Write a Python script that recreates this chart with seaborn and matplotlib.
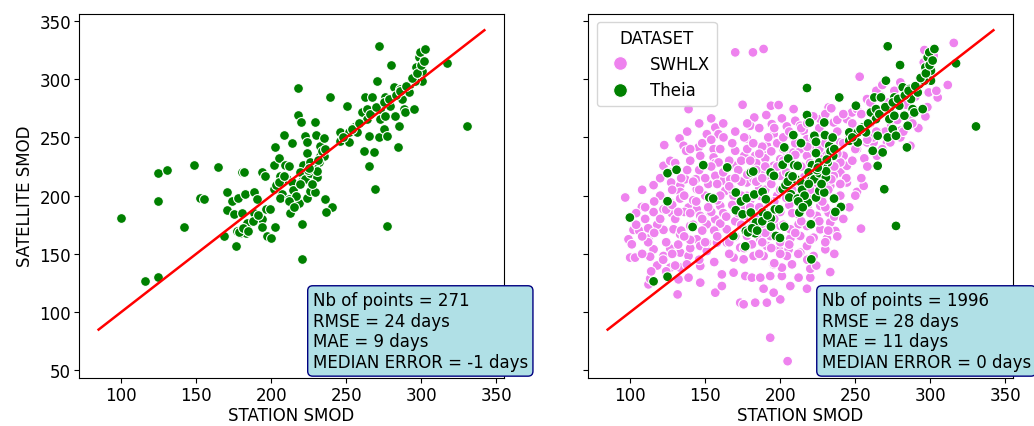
import matplotlib
matplotlib.use("Agg")
import matplotlib.pyplot as plt
import seaborn as sns
import pandas as pd

# Theia (green) points: station SMOD, satellite SMOD
theia_x = [99.8, 115.6, 124.9, 124.9, 130.9, 124.9, 141.6, 148.7, 152.7, 155.3, 164.7, 176.7, 168.7,
           170.4, 170.4, 173.8, 174.9, 177.6, 182.7, 180.4, 182.0, 180.4, 177.1, 179.3, 182.0, 183.3,
           183.8, 188.2, 190.4, 188.2, 193.6, 195.8, 193.8, 193.8, 196.4, 199.3, 197.1, 199.8, 202.7,
           201.6, 201.6, 202.7, 205.3, 208.7, 213.8, 209.3, 211.6, 206.0, 207.1, 210.4, 213.8, 207.1,
           206.0, 211.6, 212.7, 218.4, 220.4, 220.7, 217.8, 217.8, 219.6, 222.7, 223.8, 223.8, 221.1,
           218.9, 220.4, 222.7, 226.0, 223.8, 226.0, 229.3, 229.3, 229.8, 232.7, 234.9, 232.7, 235.3,
           231.6, 228.2, 230.4, 226.0, 235.8, 240.4, 236.7, 239.3, 250.4, 246.0, 246.0, 251.6, 251.6,
           255.0, 257.1, 260.4, 263.8, 262.7, 267.1, 263.8, 261.6, 264.9, 264.9, 268.2, 269.3, 270.4,
           271.6, 272.7, 272.7, 271.6, 274.9, 276.0, 276.0, 277.1, 279.3, 279.8, 281.6, 282.7, 284.4,
           284.9, 286.0, 287.1, 288.2, 289.3, 291.6, 294.9, 292.7, 296.7, 298.2, 299.3, 302.7, 300.4,
           298.2, 300.4, 296.0, 277.1, 317.1, 330.4,
           178.5, 181.2, 184.6, 203.5, 205.0, 208.2, 214.5, 216.2, 219.0, 224.5, 227.5, 230.5, 233.5,
           236.0, 248.0, 253.5, 258.5, 266.0, 270.0, 275.0, 278.5, 283.0, 285.5, 290.0, 293.5, 297.0,
           299.5, 301.5, 188.0, 191.5, 212.0, 215.0, 225.0, 231.0]
theia_y = [181.2, 126.4, 130.4, 219.3, 222.2, 195.2, 173.1, 226.2, 198.4, 197.5, 224.2, 156.5, 165.4,
           202.7, 187.5, 195.0, 184.0, 197.8, 201.0, 219.9, 220.7, 185.5, 169.7, 168.3, 171.1, 167.7,
           176.9, 203.2, 196.9, 185.5, 219.9, 217.0, 180.3, 173.4, 188.3, 188.3, 165.4, 163.7, 173.4,
           205.5, 226.5, 241.4, 231.9, 252.0, 245.1, 226.2, 225.6, 217.0, 211.3, 214.1, 211.3, 201.2,
           198.4, 197.5, 185.5, 194.1, 175.4, 145.3, 292.4, 269.2, 262.8, 251.4, 246.2, 236.5, 226.2,
           219.9, 212.7, 214.1, 219.3, 198.4, 204.1, 202.7, 262.8, 252.0, 242.8, 249.9, 234.2, 234.2,
           228.5, 225.6, 215.6, 228.5, 197.5, 190.3, 186.0, 284.3, 277.2, 254.3, 247.1, 245.7, 254.3,
           258.6, 254.3, 271.4, 274.3, 284.3, 284.3, 265.7, 238.5, 251.4, 225.6, 237.1, 205.5, 298.7,
           328.2, 274.3, 265.7, 250.0, 257.1, 268.6, 284.3, 251.4, 277.2, 312.1, 293.0, 268.6, 241.4,
           260.0, 291.5, 282.9, 274.3, 271.4, 288.6, 274.3, 295.8, 310.1, 318.7, 323.0, 325.9, 307.3,
           298.7, 298.7, 298.7, 174.0, 313.6, 259.4,
           168.5, 172.0, 170.0, 209.0, 212.0, 216.5, 205.0, 200.0, 210.0, 222.0, 210.0, 221.0, 238.0,
           240.0, 250.0, 257.0, 262.0, 270.0, 276.0, 280.0, 283.0, 286.0, 290.0, 294.0, 301.0, 305.0,
           312.0, 316.0, 178.0, 183.0, 195.0, 190.0, 224.0, 231.0]

# SWHLX (violet) points
swhlx_x = [170.0, 181.8, 188.9, 315.6, 252.9, 311.6, 304.9, 296.7, 138.9, 174.9, 193.8, 198.9, 208.9,
           190.7, 182.7, 154.0, 156.7, 151.1, 158.9, 162.2, 132.9, 122.7, 135.6, 137.3, 145.6, 146.7,
           155.6, 155.6, 156.7, 158.9, 170.0, 170.0, 176.0, 177.8, 180.0, 183.3, 188.9, 191.1, 194.4,
           195.6, 197.8, 201.1, 204.4, 206.7, 210.0, 213.3, 215.6, 217.8, 122.2, 126.7, 115.6, 127.3,
           133.3, 133.3, 136.7, 143.8, 144.4, 96.7, 107.8, 115.6, 122.2, 127.8, 126.7, 133.3, 138.9,
           144.4, 146.7, 151.1, 153.3, 156.7, 160.0, 163.3, 161.1, 166.7, 156.7, 102.2, 98.9, 101.1,
           112.2, 122.2, 128.9, 133.3, 140.0, 144.4, 115.6, 126.7, 133.3, 138.9, 146.7, 151.1, 156.7,
           164.4, 100.0, 103.3, 113.3, 122.2, 126.7, 133.3, 137.8, 146.7, 112.2, 113.3, 132.2, 131.6,
           138.9, 146.7, 156.7, 161.1, 161.1, 168.9, 176.7, 173.3, 175.6, 183.3, 191.1, 200.0, 188.9,
           195.6, 181.1, 186.7, 193.3, 201.1, 206.7, 217.8, 212.2, 220.0, 233.3, 220.0, 207.8, 201.1,
           195.6, 188.9, 182.2, 175.6, 168.9, 181.1, 191.1, 198.9, 205.6, 213.3, 217.8, 230.0, 231.1,
           236.7, 253.8, 206.7, 213.3, 222.2, 212.2, 217.8, 233.3, 232.2, 226.7, 244.4, 251.1, 255.6,
           240.0, 244.4, 242.2, 240.0, 244.4, 247.8, 251.1, 257.8, 232.2, 226.7, 235.6, 257.8, 264.4,
           271.1, 286.7, 280.0, 273.3, 275.6, 280.0, 295.6, 290.0, 298.9, 164.4, 157.8, 151.1, 140.0,
           173.3, 177.8, 184.4, 186.7, 193.3, 200.0, 206.7, 193.3, 188.9, 186.7, 177.8, 177.8, 182.2,
           186.7, 195.6, 200.0, 204.4, 208.9, 213.3, 217.8, 222.2, 228.9, 235.6, 235.6, 240.0, 235.6,
           233.3, 226.7, 222.2, 217.8, 213.3, 208.9, 204.4, 200.0, 173.3, 168.9, 164.4, 177.8, 182.2,
           224.4, 226.7, 222.2, 204.4, 193.3, 204.9, 262.2, 266.7, 248.9, 251.1, 282.2, 286.7, 293.3,
           266.7, 271.1, 300.0, 302.2,
           166.0, 172.0, 178.0, 184.0, 190.0, 196.0, 202.0, 208.0, 214.0, 220.0, 226.0, 232.0, 238.0,
           168.0, 174.0, 180.0, 186.0, 192.0, 198.0, 204.0, 210.0, 216.0, 222.0, 228.0, 234.0, 240.0,
           162.0, 170.0, 176.0, 182.0, 188.0, 194.0, 200.0, 206.0, 212.0, 218.0, 224.0, 230.0, 236.0,
           150.0, 146.0, 140.0, 152.0, 158.0, 142.0, 136.0, 130.0, 148.0, 140.0, 154.0, 160.0,
           170.0, 180.0, 190.0, 200.0, 210.0, 220.0, 186.0, 196.0, 176.0, 166.0, 156.0, 146.0,
           250.0, 256.0, 262.0, 268.0, 274.0, 280.0, 286.0, 292.0, 298.0, 304.0, 248.0, 254.0, 260.0,
           266.0, 272.0, 118.0, 124.0, 110.0, 106.0, 120.0, 128.0, 134.0, 112.0, 130.0, 124.0,
           138.0, 142.0, 146.0, 150.0, 154.0, 158.0, 162.0, 166.0, 170.0, 174.0, 178.0, 140.0, 148.0,
           160.0, 168.0, 176.0, 144.0, 152.0, 160.0, 168.0, 174.0, 136.0, 140.0, 148.0, 156.0, 164.0,
           172.0, 134.0, 142.0, 150.0, 158.0, 166.0, 174.0, 180.0, 184.0, 188.0, 192.0, 196.0, 186.0,
           178.0, 170.0, 162.0, 154.0, 146.0, 138.0, 130.0, 126.0, 120.0, 116.0, 110.0, 104.0, 108.0,
           182.0, 186.0, 190.0, 194.0, 198.0, 202.0, 206.0, 210.0, 214.0, 218.0, 222.0, 226.0, 230.0,
           234.0, 238.0, 242.0, 246.0, 184.0, 190.0, 196.0, 202.0, 208.0, 214.0, 220.0, 226.0, 232.0,
           238.0, 188.0, 194.0, 200.0, 206.0, 212.0, 218.0, 224.0, 230.0, 236.0, 242.0, 246.0, 250.0,
           254.0, 258.0, 248.0, 244.0, 240.0, 236.0, 232.0, 228.0, 224.0, 220.0, 216.0, 212.0, 208.0,
           204.0, 200.0, 196.0, 192.0, 188.0, 184.0, 180.0, 182.0, 186.0, 190.0, 194.0, 198.0, 202.0,
           206.0, 210.0, 214.0, 218.0, 222.0, 226.0, 230.0, 234.0, 238.0, 242.0, 260.0, 264.0, 268.0,
           276.0, 284.0, 290.0, 294.0, 300.0, 296.0, 270.0, 278.0, 282.0, 288.0, 258.0, 264.0,
           104.0, 108.0, 112.0, 116.0, 120.0, 124.0, 128.0, 132.0, 118.0, 122.0, 128.0, 132.0, 136.0,
           114.0, 108.0]
swhlx_y = [323.0, 323.0, 325.9, 331.1, 302.1, 295.0, 284.3, 268.0, 274.3, 278.0, 277.2, 277.8, 274.3,
           269.2, 267.1, 266.3, 258.5, 252.8, 252.8, 250.0, 249.1, 243.4, 242.8, 238.5, 241.4, 234.2,
           239.9, 232.8, 227.9, 228.5, 238.5, 225.6, 234.2, 249.1, 260.0, 234.2, 238.5, 242.8, 261.4,
           252.8, 245.7, 266.3, 259.4, 252.8, 264.3, 260.0, 255.7, 248.5, 225.6, 229.9, 209.0, 211.3,
           208.4, 203.2, 214.1, 214.1, 205.5, 198.4, 190.3, 185.9, 188.3, 184.9, 194.1, 197.5, 189.8,
           188.3, 182.6, 175.4, 185.5, 179.7, 191.2, 204.1, 212.7, 214.1, 217.0, 170.6, 162.5, 158.2,
           163.1, 170.6, 171.1, 166.8, 174.0, 162.5, 153.9, 154.5, 151.1, 148.2, 156.8, 152.5, 171.1,
           159.7, 146.8, 146.8, 147.6, 148.2, 138.2, 138.2, 141.0, 139.6, 123.8, 128.7, 128.1, 115.2,
           129.6, 125.3, 116.7, 122.4, 132.4, 133.9, 131.0, 108.1, 106.7, 108.1, 108.1, 110.9, 120.1,
           116.7, 129.6, 129.6, 131.0, 131.0, 122.4, 120.1, 129.6, 129.6, 134.4, 137.2, 141.0, 138.2,
           141.0, 148.2, 148.2, 145.3, 146.8, 158.2, 156.8, 153.9, 153.9, 151.1, 156.8, 153.9, 163.1,
           169.7, 171.7, 163.1, 165.4, 163.9, 175.4, 173.9, 176.9, 185.5, 191.2, 211.3, 203.2, 208.4,
           219.9, 225.6, 234.2, 245.7, 265.7, 271.4, 274.3, 282.9, 275.7, 265.7, 262.8, 245.7, 234.2,
           245.7, 242.8, 255.7, 245.7, 265.7, 297.2, 314.4, 291.5, 288.6, 171.1, 159.7, 159.7, 154.9,
           155.4, 165.4, 171.1, 162.5, 165.4, 174.0, 171.1, 182.6, 188.3, 199.8, 199.8, 211.3, 214.1,
           219.9, 225.6, 231.3, 237.1, 237.1, 239.9, 234.2, 239.9, 234.2, 239.9, 228.5, 228.5, 217.0,
           208.4, 205.5, 211.3, 199.8, 199.8, 205.5, 211.3, 217.0, 191.2, 199.8, 182.6, 182.6, 176.9,
           182.6, 171.1, 148.2, 148.2, 78.0, 57.9, 245.7, 254.3, 257.1, 239.9, 268.6, 282.9, 297.2,
           285.8, 280.1, 303.0, 320.2,
           230.0, 222.0, 240.0, 228.0, 232.0, 222.0, 240.0, 228.0, 245.0, 228.0, 240.0, 226.0, 236.0,
           205.0, 212.0, 196.0, 206.0, 214.0, 200.0, 220.0, 200.0, 216.0, 206.0, 222.0, 214.0, 200.0,
           185.0, 178.0, 188.0, 182.0, 176.0, 194.0, 186.0, 192.0, 184.0, 190.0, 198.0, 190.0, 182.0,
           200.0, 222.0, 230.0, 210.0, 196.0, 196.0, 186.0, 180.0, 170.0, 162.0, 186.0, 176.0,
           165.0, 172.0, 168.0, 160.0, 168.0, 162.0, 150.0, 142.0, 155.0, 150.0, 143.0, 145.0,
           240.0, 232.0, 250.0, 240.0, 260.0, 250.0, 266.0, 258.0, 276.0, 290.0, 262.0, 270.0, 262.0,
           272.0, 280.0, 175.0, 160.0, 180.0, 170.0, 200.0, 205.0, 215.0, 160.0, 140.0, 135.0,
           222.0, 212.0, 205.0, 215.0, 225.0, 210.0, 220.0, 208.0, 215.0, 230.0, 218.0, 240.0, 245.0,
           240.0, 245.0, 250.0, 195.0, 190.0, 200.0, 192.0, 200.0, 200.0, 185.0, 180.0, 170.0, 182.0,
           185.0, 170.0, 175.0, 160.0, 165.0, 160.0, 175.0, 190.0, 212.0, 242.0, 250.0, 258.0, 258.0,
           262.0, 255.0, 262.0, 248.0, 262.0, 255.0, 228.0, 220.0, 215.0, 195.0, 190.0, 185.0, 205.0,
           200.0, 190.0, 205.0, 210.0, 225.0, 230.0, 215.0, 235.0, 225.0, 242.0, 250.0, 232.0, 245.0,
           250.0, 255.0, 245.0, 250.0, 180.0, 185.0, 180.0, 175.0, 185.0, 178.0, 185.0, 178.0, 170.0,
           165.0, 160.0, 155.0, 150.0, 158.0, 150.0, 145.0, 140.0, 160.0, 150.0, 180.0, 190.0, 200.0,
           215.0, 225.0, 230.0, 215.0, 210.0, 225.0, 205.0, 195.0, 215.0, 205.0, 195.0, 210.0, 205.0,
           198.0, 205.0, 195.0, 195.0, 215.0, 222.0, 230.0, 245.0, 236.0, 225.0, 238.0, 245.0, 250.0,
           255.0, 245.0, 258.0, 262.0, 268.0, 258.0, 270.0, 275.0, 265.0, 270.0, 280.0, 290.0, 295.0,
           290.0, 278.0, 285.0, 300.0, 310.0, 325.0, 255.0, 265.0, 255.0, 262.0, 248.0, 255.0,
           175.0, 165.0, 172.0, 168.0, 180.0, 188.0, 192.0, 186.0, 140.0, 145.0, 150.0, 158.0, 165.0,
           135.0, 150.0]

# 1:1 reference line
line_vals = [85, 342]

datasets = ["SWHLX", "Theia"]
colors = {"SWHLX": "violet", "Theia": "green"}

stats_left = ["Nb of points = 271", "RMSE = 24 days", "MAE = 9 days", "MEDIAN ERROR = -1 days"]
stats_right = ["Nb of points = 1996", "RMSE = 28 days", "MAE = 11 days", "MEDIAN ERROR = 0 days"]

df_theia = pd.DataFrame({"STATION SMOD": theia_x, "SATELLITE SMOD": theia_y, "DATASET": "Theia"})
df_swhlx = pd.DataFrame({"STATION SMOD": swhlx_x, "SATELLITE SMOD": swhlx_y, "DATASET": "SWHLX"})
df_all = pd.concat([df_swhlx, df_theia], ignore_index=True)
df_line = pd.DataFrame({"x": line_vals, "y": line_vals})

fig, axes = plt.subplots(1, 2, figsize=(10.34, 4.27), dpi=100, sharey=True)
fig.subplots_adjust(left=0.0767, right=0.9794, bottom=0.1131, top=0.9656, wspace=0.1996)

fs = 12

ax = axes[0]
sns.scatterplot(data=df_theia, x="STATION SMOD", y="SATELLITE SMOD", color="green", ax=ax,
                edgecolor="white", linewidth=0.8, s=50, legend=False)
sns.lineplot(data=df_line, x="x", y="y", color="red", ax=ax, linewidth=1.8)
ax.set_xlabel("STATION SMOD", fontsize=fs, labelpad=1.5)
ax.set_ylabel("SATELLITE SMOD", fontsize=fs)

ax2 = axes[1]
sns.scatterplot(data=df_all, x="STATION SMOD", y="SATELLITE SMOD", hue="DATASET",
                hue_order=datasets, palette=colors, ax=ax2, edgecolor="white", linewidth=0.8, s=50)
sns.lineplot(data=df_line, x="x", y="y", color="red", ax=ax2, linewidth=1.8)
ax2.set_xlabel("STATION SMOD", fontsize=fs, labelpad=1.5)
ax2.set_ylabel("")
leg = ax2.legend(title="DATASET", loc="upper left", fontsize=fs, title_fontsize=fs,
                 markerscale=1.4)

for a, st in zip(axes, [stats_left, stats_right]):
    a.tick_params(labelsize=fs, pad=2.5)
    a.set_xticks([100, 150, 200, 250, 300, 350])
    a.set_yticks([50, 100, 150, 200, 250, 300, 350])
    a.text(0.550, 0.018, "\n".join(st), transform=a.transAxes, ha="left", va="bottom",
           fontsize=fs, zorder=10,
           bbox=dict(boxstyle="round,pad=0.3", facecolor="powderblue", edgecolor="navy"))

fig.savefig("out.png", dpi=100)
